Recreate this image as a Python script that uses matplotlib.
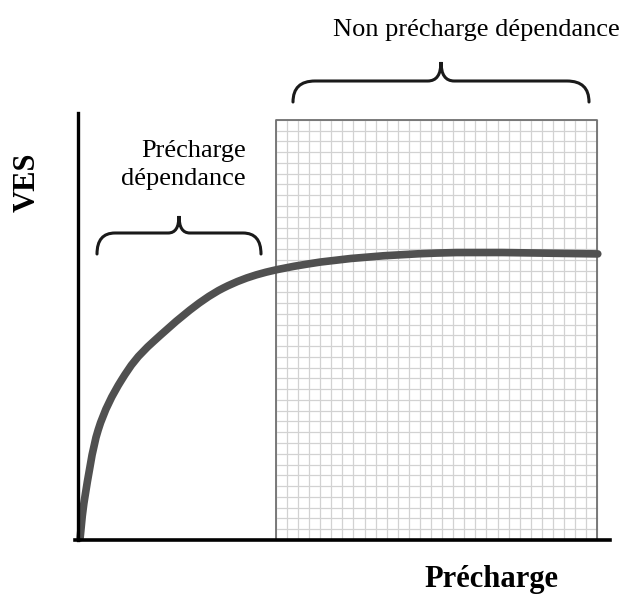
import numpy as np
import matplotlib
matplotlib.use("Agg")
import matplotlib.pyplot as plt
from matplotlib.path import Path
from matplotlib.patches import PathPatch
from matplotlib.transforms import Affine2D

# courbe de Frank-Starling
precharge = [0.4, 1.3, 3.8, 8.2, 14.2, 27.3, 43.0, 67.5, 97.7]
ves = [0.5, 10.1, 25.8, 37.5, 46.5, 59.0, 64.6, 67.2, 67.0]

zone_non_dep = (37.2, 97.6)   # debut / fin de la zone quadrillee
grid_top = 98.4
n_cols, n_rows = 29, 39

label_x = "Précharge"
label_y = "VES"
label_dep = "Précharge\ndépendance"
label_non_dep = "Non précharge dépendance"

W, H = 624, 600
fig = plt.figure(figsize=(W / 100, H / 100), dpi=100)
ax = fig.add_axes([0, 0, 1, 1])
# 0 -> px 78, 100 -> px 610 ; y 0 -> px 540, 100 -> px 113
sx, sy = 5.32, 4.27
ax.set_xlim(-78 / sx, (W - 78) / sx)
ax.set_ylim(-(H - 540) / sy, 540 / sy)
ax.axis("off")

# quadrillage
x0, x1 = zone_non_dep
for gx in np.linspace(x0, x1, n_cols + 1):
    ax.plot([gx, gx], [0, grid_top], color="#d2d2d2", lw=0.9, zorder=1)
for gy in np.linspace(0, grid_top, n_rows + 1):
    ax.plot([x0, x1], [gy, gy], color="#d2d2d2", lw=0.9, zorder=1)
ax.plot([x0, x0, x1, x1], [0, grid_top, grid_top, 0], color="#707070", lw=1.3, zorder=2)

# axes
ax.plot([0, 0], [0, 100], color="black", lw=2.4, zorder=4)
ax.plot([-0.6, 100], [0, 0], color="black", lw=2.6, zorder=4)

# courbe lissee : chemin de Bezier (Catmull-Rom, en pixels) passant par les points lus
pts = ax.transData.transform(np.column_stack([precharge, ves]))
verts = [tuple(pts[0])]
codes = [Path.MOVETO]
for i in range(len(pts) - 1):
    p0 = pts[max(i - 1, 0)]
    p1, p2 = pts[i], pts[i + 1]
    p3 = pts[min(i + 2, len(pts) - 1)]
    verts += [tuple(p1 + (p2 - p0) / 6), tuple(p2 - (p3 - p1) / 6), tuple(p2)]
    codes += [Path.CURVE4] * 3
verts = ax.transData.inverted().transform(verts)
ax.add_patch(PathPatch(Path(verts, codes), facecolor="none", edgecolor="#505050",
                       lw=5.5, capstyle="round", zorder=3))

# accolades (en pixels image)
to_disp = Affine2D().scale(1, -1).translate(0, H)


def accolade(xa, xb, y_end, y_bar, y_tip, r):
    xm = (xa + xb) / 2
    v = [(xa, y_end), (xa, y_bar), (xa + r, y_bar),
         (xm - r * 0.6, y_bar),
         (xm, y_bar), (xm, y_tip),
         (xm, y_bar), (xm + r * 0.6, y_bar),
         (xb - r, y_bar),
         (xb, y_bar), (xb, y_end)]
    c = [Path.MOVETO, Path.CURVE3, Path.CURVE3,
         Path.LINETO,
         Path.CURVE3, Path.CURVE3,
         Path.CURVE3, Path.CURVE3,
         Path.LINETO,
         Path.CURVE3, Path.CURVE3]
    p = PathPatch(Path(v, c), facecolor="none", edgecolor="#1a1a1a",
                  lw=2.2, transform=to_disp, capstyle="round")
    fig.add_artist(p)


accolade(97, 261, 254, 233, 216, 18)
accolade(293, 589, 102, 81, 62, 22)

serif = ["Liberation Serif", "DejaVu Serif"]
fig.text(476 / W, 1 - 30 / H, label_non_dep, ha="center", va="center",
         fontsize=19, family=serif)
fig.text(246 / W, 1 - 165 / H, label_dep, ha="right", va="center",
         fontsize=19, family=serif, linespacing=1.3, multialignment="right")
fig.text(491 / W, 1 - 580 / H, label_x, ha="center", va="center",
         fontsize=22, fontweight="bold", family=serif)
fig.text(27 / W, 1 - 182 / H, label_y, ha="center", va="center", rotation=90,
         fontsize=22, fontweight="bold", family=serif)

fig.savefig("out.png", dpi=100)
